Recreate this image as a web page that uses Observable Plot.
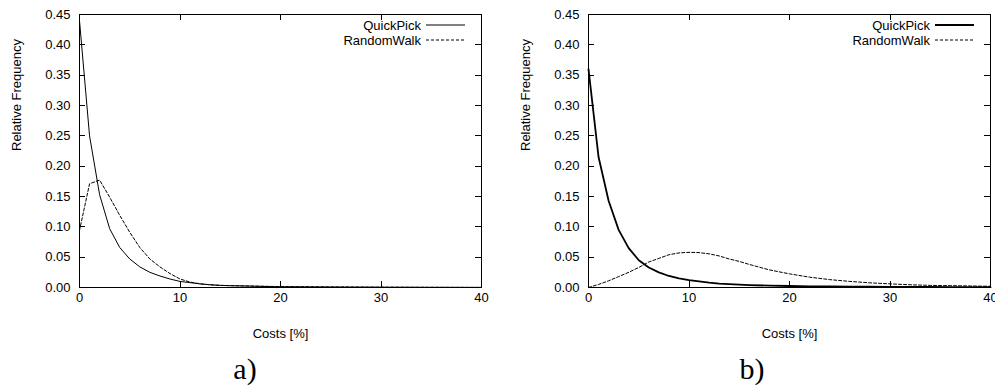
<!DOCTYPE html>
<html>
<head>
<meta charset="utf-8">
<script src="https://cdn.jsdelivr.net/npm/d3@7"></script>
<script src="https://cdn.jsdelivr.net/npm/@observablehq/plot@0.6"></script>
<style>
  html, body { margin: 0; padding: 0; background: #fff; overflow: hidden; }
  #wrap { position: relative; width: 995px; height: 387px; background: #fff; overflow: hidden; }
  .panel { position: absolute; top: 0; width: 495px; height: 387px; }
  .panel svg { overflow: visible; max-width: none !important; }
  .cap { position: absolute; font-family: "Liberation Serif", "DejaVu Serif", serif; font-size: 30px; color: #000; transform: translateX(-50%); line-height: 1; }
</style>
</head>
<body>
<div id="wrap">
  <div class="panel" id="pa" style="left:0px"></div>
  <div class="panel" id="pb" style="left:509px"></div>
  <div class="cap" style="left:245px; top:354px">a)</div>
  <div class="cap" style="left:752px; top:354px">b)</div>
</div>
<script>
// ---- data ----
const seriesNames = ["QuickPick", "RandomWalk"];
const xTicks = [0, 10, 20, 30, 40];
const yTicks = [0, 0.05, 0.10, 0.15, 0.20, 0.25, 0.30, 0.35, 0.40, 0.45];
const xLabel = "Costs [%]";
const yLabel = "Relative Frequency";

// panel a)
const costsA = [0,1,2,3,4,5,6,7,8,9,10,11,12,13,14,15,20,25,30,35,40];
const quickPickA = [0.44,0.25,0.153,0.097,0.066,0.047,0.034,0.025,0.019,0.014,0.010,0.008,0.006,0.0045,0.0035,0.003,0.0012,0.0007,0.0004,0.0002,0.0001];
const randomWalkA = [0.094,0.171,0.177,0.149,0.119,0.091,0.066,0.047,0.034,0.023,0.014,0.009,0.006,0.0045,0.0035,0.003,0.0015,0.001,0.0006,0.0004,0.0002];

// panel b)
const costsB = [0,1,2,3,4,5,6,7,8,9,10,11,12,13,14,15,16,18,20,22,24,26,28,30,32,34,36,38,40];
const quickPickB = [0.36,0.215,0.143,0.095,0.065,0.045,0.033,0.025,0.019,0.015,0.012,0.010,0.008,0.0065,0.0055,0.0047,0.004,0.003,0.0025,0.002,0.0018,0.0016,0.0013,0.001,0.0009,0.0008,0.0007,0.0006,0.0005];
const randomWalkB = [0,0.005,0.011,0.018,0.025,0.033,0.042,0.048,0.054,0.057,0.058,0.0575,0.0555,0.052,0.047,0.043,0.038,0.029,0.0225,0.017,0.013,0.010,0.0077,0.006,0.0045,0.0035,0.003,0.0025,0.002];

function rows(xs, ys) { return xs.map((x, i) => ({x, y: ys[i]})); }

function panel(el, xs, qp, rw, solidWidth) {
  const W = 495, H = 387, mL = 79, mR = 14, mT = 14, mB = 100;
  const tick = 6;
  const chart = Plot.plot({
    width: W, height: H,
    marginLeft: mL, marginRight: mR, marginTop: mT, marginBottom: mB,
    style: {fontFamily: "'Liberation Sans', Arial, sans-serif", fontSize: "13px", color: "#000", background: "#fff"},
    x: {domain: [0, 40]},
    y: {domain: [0, 0.45]},
    marks: [
      Plot.line(rows(xs, rw), {x: "x", y: "y", stroke: "#000", strokeWidth: 1, strokeDasharray: "3,2"}),
      Plot.line(rows(xs, qp), {x: "x", y: "y", stroke: "#000", strokeWidth: solidWidth}),
      Plot.frame({stroke: "#000", strokeWidth: 1}),
      Plot.axisX({ticks: xTicks, tickSize: 0, tickPadding: 5, label: null}),
      Plot.axisY({ticks: yTicks, tickSize: 0, tickPadding: 9, tickFormat: d3.format(".2f"), label: null}),
      Plot.text([xLabel], {text: d => d, frameAnchor: "bottom", dy: 50, fill: "#000"}),
      Plot.text([yLabel], {text: d => d, frameAnchor: "left", dx: -63, rotate: -90, fill: "#000"})
    ]
  });
  const svg = d3.select(chart);
  const sx = chart.scale("x"), sy = chart.scale("y");
  const left = mL, right = W - mR, top = mT, bottom = H - mB;
  // inward ticks, mirrored on all four sides (gnuplot style)
  const g = svg.append("g").attr("stroke", "#000").attr("stroke-width", 1);
  xTicks.forEach(v => {
    const px = Math.round(sx.apply(v)) + 0.5;
    g.append("line").attr("x1", px).attr("x2", px).attr("y1", bottom).attr("y2", bottom - tick);
    g.append("line").attr("x1", px).attr("x2", px).attr("y1", top).attr("y2", top + tick);
  });
  yTicks.forEach(v => {
    const py = Math.round(sy.apply(v)) + 0.5;
    g.append("line").attr("x1", left).attr("x2", left + tick).attr("y1", py).attr("y2", py);
    g.append("line").attr("x1", right).attr("x2", right - tick).attr("y1", py).attr("y2", py);
  });
  // legend inside the frame, top-right
  const styles = [{w: solidWidth, dash: null}, {w: 1, dash: "3,2"}];
  seriesNames.forEach((name, i) => {
    const y = 25 + i * 15;
    svg.append("text").attr("x", right - 60).attr("y", y).attr("dy", "0.35em")
      .attr("text-anchor", "end").attr("fill", "#000").text(name);
    const ln = svg.append("line").attr("x1", right - 55).attr("x2", right - 16)
      .attr("y1", y).attr("y2", y).attr("stroke", "#000").attr("stroke-width", styles[i].w);
    if (styles[i].dash) ln.attr("stroke-dasharray", styles[i].dash);
  });
  document.getElementById(el).appendChild(chart);
}

panel("pa", costsA, quickPickA, randomWalkA, 1);
panel("pb", costsB, quickPickB, randomWalkB, 1.8);
</script>
</body>
</html>
